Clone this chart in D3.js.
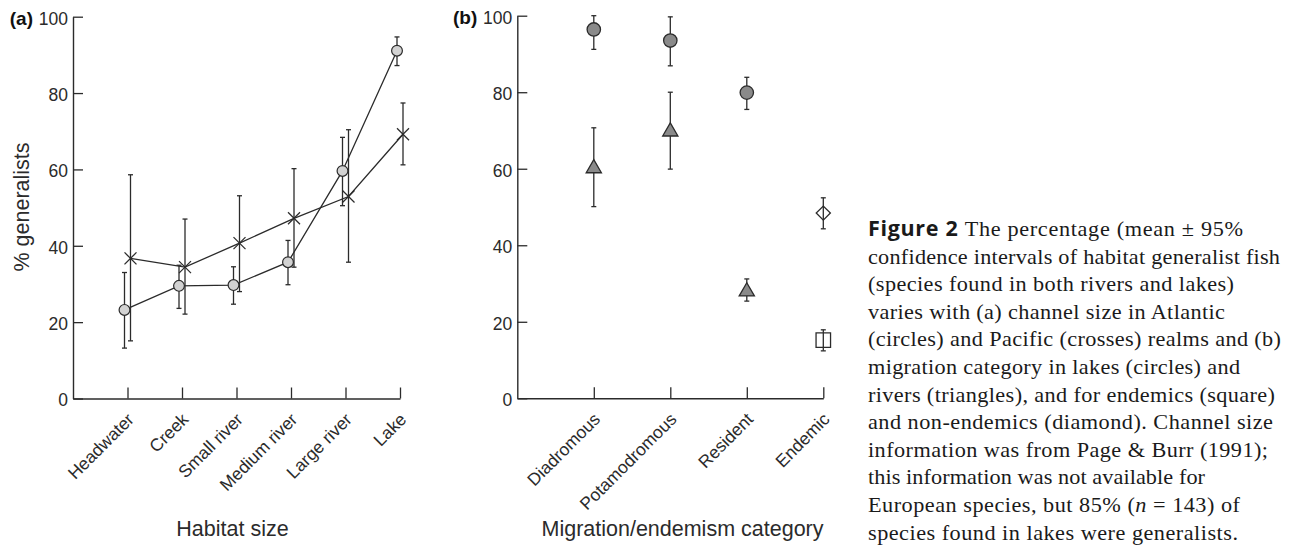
<!DOCTYPE html>
<html>
<head>
<meta charset="utf-8">
<script src="https://cdn.jsdelivr.net/npm/d3@7"></script>
<style>
  body { margin: 0; background: #fff; }
  svg { display: block; }
</style>
</head>
<body>
<div id="chart"></div>
<script>
// panel (a): habitat size
const habitatCats = ["Headwater", "Creek", "Small river", "Medium river", "Large river", "Lake"];
const atlanticMean = [23.2, 29.5, 29.7, 35.7, 59.6, 91.1];
const atlanticLo = [13.2, 23.6, 24.7, 29.8, 50.5, 87.2];
const atlanticHi = [33.0, 34.9, 34.5, 41.4, 68.4, 94.7];
const pacificMean = [36.7, 34.4, 40.7, 47.2, 52.9, 69.2];
const pacificLo = [15.1, 22.1, 28.0, 34.4, 35.7, 61.2];
const pacificHi = [58.6, 47.0, 53.1, 60.2, 70.4, 77.4];

// panel (b): migration / endemism
const migrationCats = ["Diadromous", "Potamodromous", "Resident", "Endemic"];
const lakeMean = [96.4, 93.5, 79.9];
const lakeLo = [91.2, 86.9, 75.5];
const lakeHi = [100, 99.7, 83.9];
const riverMean = [60.1, 69.7, 27.9];
const riverLo = [50.1, 59.9, 25.4];
const riverHi = [70.7, 80.0, 31.2];
const nonEndemic = [48.4, 44.3, 52.4]; // mean, lo, hi
const endemic = [15.2, 12.4, 17.9];

const yTicks = [0, 20, 40, 60, 80, 100];

const captionLines = [
	"The percentage (mean \u00b1 95%",
	"confidence intervals of habitat generalist fish",
	"(species found in both rivers and lakes)",
	"varies with (a) channel size in Atlantic",
	"(circles) and Pacific (crosses) realms and (b)",
	"migration category in lakes (circles) and",
	"rivers (triangles), and for endemics (square)",
	"and non-endemics (diamond). Channel size",
	"information was from Page & Burr (1991);",
	"this information was not available for",
	"European species, but 85% (n = 143) of",
	"species found in lakes were generalists."
];
// right edge of each caption line (page px), to match the original typesetting
const captionEnds = [1243, 1280, 1234, 1225, 1281, 1240, 1275, 1273, 1268, 1205, 1240, 1238];

const ink = "#2b2b2b";
const sans = "'Liberation Sans', Arial, sans-serif";

const svg = d3.select("#chart")
	.append("svg")
	.attr("width", 1295)
	.attr("height", 548);

// draws axes for one panel, returns scales
function drawAxes(left, right, top, bottom, nCats, cats, label, title, titleX) {
	const x = d3.scaleLinear().domain([0, nCats]).range([left, right]);
	const y = d3.scaleLinear().domain([0, 100]).range([bottom, top]);

	const gy = svg.append("g")
		.attr("transform", `translate(${left},0)`)
		.style("color", ink)
		.call(d3.axisLeft(y).tickValues(yTicks).tickSize(-10).tickSizeOuter(0).tickPadding(5));
	gy.selectAll("text")
		.style("font-family", sans)
		.style("font-size", "17.5px")
		.attr("dy", "0.42em");

	const gx = svg.append("g")
		.attr("transform", `translate(0,${bottom})`)
		.style("color", ink)
		.call(d3.axisBottom(x)
			.tickValues(d3.range(1, nCats + 1))
			.tickFormat(i => cats[i - 1])
			.tickSize(-11)
			.tickSizeOuter(0));
	gx.selectAll("text")
		.style("font-family", sans)
		.style("font-size", "17.5px")
		.attr("text-anchor", "end")
		.attr("y", 0)
		.attr("dy", 0)
		.attr("transform", "translate(7,22) rotate(-45)");

	svg.selectAll(".domain").attr("stroke-width", 1.4);
	svg.selectAll(".tick line").attr("stroke-width", 1.3);

	// panel letter
	svg.append("text")
		.attr("x", left - 40)
		.attr("y", top + 8)
		.attr("text-anchor", "end")
		.style("font-family", sans)
		.style("font-size", "19px")
		.style("font-weight", "bold")
		.attr("fill", "#111")
		.text(label);

	// x title
	svg.append("text")
		.attr("x", titleX)
		.attr("y", 536)
		.attr("text-anchor", "middle")
		.style("font-family", sans)
		.style("font-size", "21.5px")
		.attr("fill", ink)
		.text(title);

	return { x, y };
}

function errorBar(g, x, yLo, yHi) {
	g.append("line").attr("x1", x).attr("x2", x).attr("y1", yLo).attr("y2", yHi);
	g.append("line").attr("x1", x - 2.5).attr("x2", x + 2.5).attr("y1", yLo).attr("y2", yLo);
	g.append("line").attr("x1", x - 2.5).attr("x2", x + 2.5).attr("y1", yHi).attr("y2", yHi);
}

// ---- panel (a)
const a = drawAxes(73, 400, 16.7, 398.5, 6, habitatCats, "(a)", "Habitat size", 232.5);

svg.append("text")
	.attr("transform", "translate(29,207) rotate(-90)")
	.attr("text-anchor", "middle")
	.style("font-family", sans)
	.style("font-size", "21.5px")
	.attr("fill", ink)
	.text("% generalists");

const atl = atlanticMean.map((m, i) => ({ x: a.x(i + 1) - 3, m, lo: atlanticLo[i], hi: atlanticHi[i] }));
const pac = pacificMean.map((m, i) => ({ x: a.x(i + 1) + 3, m, lo: pacificLo[i], hi: pacificHi[i] }));

const lineA = d3.line().x(d => d.x).y(d => a.y(d.m));
svg.append("path").datum(atl).attr("d", lineA).attr("fill", "none").attr("stroke", ink).attr("stroke-width", 1.3);
svg.append("path").datum(pac).attr("d", lineA).attr("fill", "none").attr("stroke", ink).attr("stroke-width", 1.3);

const barsA = svg.append("g").attr("stroke", ink).attr("stroke-width", 1.3);
atl.concat(pac).forEach(d => errorBar(barsA, d.x, a.y(d.lo), a.y(d.hi)));

svg.append("g").selectAll("circle")
	.data(atl)
	.join("circle")
	.attr("cx", d => d.x)
	.attr("cy", d => a.y(d.m))
	.attr("r", 5.4)
	.attr("fill", "#d2d2d2")
	.attr("stroke", ink)
	.attr("stroke-width", 1.2);

const crossG = svg.append("g").attr("stroke", ink).attr("stroke-width", 1.3);
pac.forEach(d => {
	const cy = a.y(d.m);
	crossG.append("line").attr("x1", d.x - 6).attr("x2", d.x + 6).attr("y1", cy - 6).attr("y2", cy + 6);
	crossG.append("line").attr("x1", d.x - 6).attr("x2", d.x + 6).attr("y1", cy + 6).attr("y2", cy - 6);
});

// ---- panel (b)
const b = drawAxes(517.3, 823.3, 15.7, 398.3, 4, migrationCats, "(b)", "Migration/endemism category", 682.5);

const lakes = lakeMean.map((m, i) => ({ x: b.x(i + 1), m, lo: lakeLo[i], hi: lakeHi[i] }));
const rivers = riverMean.map((m, i) => ({ x: b.x(i + 1), m, lo: riverLo[i], hi: riverHi[i] }));
const endX = b.x(4);

const barsB = svg.append("g").attr("stroke", ink).attr("stroke-width", 1.3);
lakes.concat(rivers).forEach(d => errorBar(barsB, d.x, b.y(d.lo), b.y(d.hi)));
errorBar(barsB, endX, b.y(nonEndemic[1]), b.y(nonEndemic[2]));
errorBar(barsB, endX, b.y(endemic[1]), b.y(endemic[2]));

svg.append("g").selectAll("circle")
	.data(lakes)
	.join("circle")
	.attr("cx", d => d.x)
	.attr("cy", d => b.y(d.m))
	.attr("r", 6.7)
	.attr("fill", "#8a8a8a")
	.attr("stroke", ink)
	.attr("stroke-width", 1.3);

svg.append("g").selectAll("path")
	.data(rivers)
	.join("path")
	.attr("transform", d => `translate(${d.x},${b.y(d.m)})`)
	.attr("d", d3.symbol(d3.symbolTriangle, 100))
	.attr("fill", "#8a8a8a")
	.attr("stroke", ink)
	.attr("stroke-width", 1.3);

// non-endemic diamond (open)
svg.append("path")
	.attr("transform", `translate(${endX},${b.y(nonEndemic[0])}) rotate(45)`)
	.attr("d", d3.symbol(d3.symbolSquare, 100))
	.attr("fill", "none")
	.attr("stroke", ink)
	.attr("stroke-width", 1.3);

// endemic square (open)
svg.append("path")
	.attr("transform", `translate(${endX},${b.y(endemic[0])})`)
	.attr("d", d3.symbol(d3.symbolSquare, 210))
	.attr("fill", "none")
	.attr("stroke", ink)
	.attr("stroke-width", 1.3);

// ---- caption (serif face in the original is a bit wider than Times)
const capScale = 1.05;
const cap = svg.append("g")
	.attr("transform", `translate(868,0) scale(${capScale},1)`)
	.style("font-family", "'Liberation Serif', 'Times New Roman', serif")
	.style("font-size", "21.2px")
	.attr("fill", "#1a1a1a");

captionLines.forEach((line, i) => {
	const t = cap.append("text")
		.attr("x", 0)
		.attr("y", 236 + i * 27.6)
		.attr("textLength", (captionEnds[i] - 868) / capScale)
		.attr("lengthAdjust", "spacing");
	if (i === 0) {
		t.append("tspan")
			.style("font-family", "'Open Sans', sans-serif")
			.style("font-weight", "bold")
			.style("font-size", "20.5px")
			.text("Figure 2 ");
		t.append("tspan").text(line);
	} else if (line.includes("(n =")) {
		const parts = line.split("n =");
		t.append("tspan").text(parts[0]);
		t.append("tspan").style("font-style", "italic").text("n");
		t.append("tspan").text(" =" + parts[1]);
	} else {
		t.text(line);
	}
});
</script>
</body>
</html>
